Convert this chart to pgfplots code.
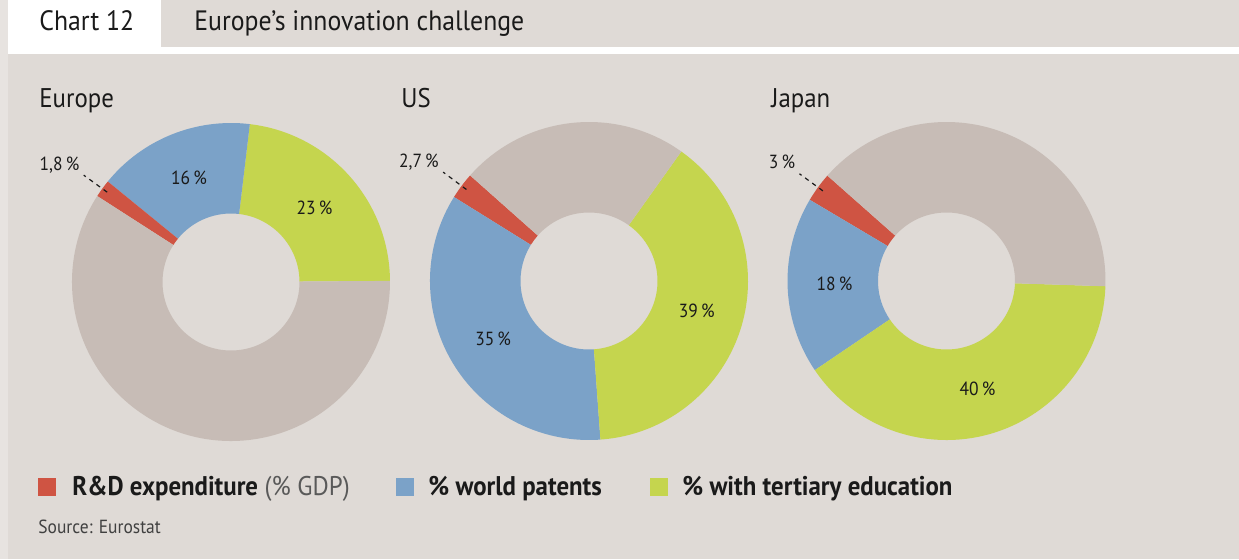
\documentclass[border=0pt]{standalone}
\usepackage{pgfplots}
\pgfplotsset{compat=1.18}
\usepackage{fontspec}
\setmainfont{PT Sans}[FakeStretch=0.92]

\definecolor{bg}{HTML}{DFDAD6}
\definecolor{bgleft}{HTML}{E7E3E0}
\definecolor{cgrey}{HTML}{C7BCB6}
\definecolor{cred}{HTML}{CF5443}
\definecolor{cblue}{HTML}{7BA2C8}
\definecolor{cgreen}{HTML}{C5D54E}
\definecolor{ink}{HTML}{1A1A1A}

% donut: centre x, centre y, start angle, slices value/colour/label (0 none, 1 inside, 2 outside)
% sizes in px of the reference, 1px = 0.5pt
\newcommand\donut[4]{%
  \xdef\ang{#3}%
  \foreach \v/\c/\t in {#4}{%
    \pgfmathsetmacro\b{\ang+3.6*\v}%
    \pgfmathsetmacro\m{(\ang+\b)/2}%
    \fill[\c] (axis cs:{#1+159*cos(\ang)},{#2+159*sin(\ang)})
      arc[start angle=\ang,end angle=\b,radius=79.5pt]
      -- (axis cs:{#1+68.5*cos(\b)},{#2+68.5*sin(\b)})
      arc[start angle=\b,end angle=\ang,radius=34.25pt] -- cycle;
    \ifnum\t=1
      \node[ink,font=\fontsize{9.5}{11}\selectfont] at (axis cs:{#1+112*cos(\m)},{#2+112*sin(\m)})
        {\pgfmathprintnumber[use comma,assume math mode=true]{\v}\,\%};
    \fi
    \ifnum\t=2
      \draw[ink,line width=0.6pt,dash pattern=on 2.2pt off 2.2pt]
        (axis cs:{#1+153*cos(\m)},{#2+153*sin(\m)}) -- (axis cs:{#1+182*cos(\m)},{#2+182*sin(\m)});
      \node[ink,anchor=base east,inner sep=0pt,font=\fontsize{9.5}{11}\selectfont]
        at (axis cs:{#1+182*cos(\m)-4},{#2+182*sin(\m)+5})
        {\pgfmathprintnumber[use comma,assume math mode=true]{\v}\,\%};
    \fi
    \xdef\ang{\b}%
  }%
}

\begin{document}
\begin{tikzpicture}
\begin{axis}[
    x=0.5pt, y=0.5pt,
    xmin=0, xmax=1239,
    ymin=0, ymax=559,
    hide axis,
    clip=false,
]
\pgfplotsextra{
  % panel and header
  \fill[bg] (axis cs:0,0) rectangle (axis cs:1239,559);
  \fill[bgleft] (axis cs:0,0) rectangle (axis cs:8,559);
  \fill[white] (axis cs:8,505) rectangle (axis cs:1239,512);
  \fill[white] (axis cs:8,512) rectangle (axis cs:161,559);
  \node[ink,anchor=base west,inner sep=0pt,font=\fontsize{14}{16}\selectfont] at (axis cs:39,529) {Chart 12};
  \node[ink,anchor=base west,inner sep=0pt,font=\fontsize{14}{16}\selectfont] at (axis cs:194,529) {Europe’s innovation challenge};

  % titles
  \node[ink,anchor=base west,inner sep=0pt,font=\fontsize{13.5}{15}\selectfont] at (axis cs:39,452) {Europe};
  \node[ink,anchor=base west,inner sep=0pt,font=\fontsize{13.5}{15}\selectfont] at (axis cs:401,452) {US};
  \node[ink,anchor=base west,inner sep=0pt,font=\fontsize{13.5}{15}\selectfont] at (axis cs:771,452) {Japan};

  % donuts: R&D expenditure, world patents, tertiary education, rest
  \donut{231}{277}{0.4}{23/cgreen/1, 16/cblue/1, 1.8/cred/2, 59.2/cgrey/0}
  \donut{589}{278}{138.4}{2.7/cred/2, 35/cblue/1, 39/cgreen/1, 23.3/cgrey/0}
  \donut{946.5}{278}{138.5}{3/cred/2, 18/cblue/1, 40/cgreen/1, 39/cgrey/0}

  % legend
  \fill[cred] (axis cs:38,63) rectangle (axis cs:56,81);
  \fill[cblue] (axis cs:396,63) rectangle (axis cs:414,81);
  \fill[cgreen] (axis cs:650,63) rectangle (axis cs:668,81);
  \node[ink,anchor=base west,inner sep=0pt,font=\fontsize{13.5}{16}\selectfont] at (axis cs:72,64)
    {\textbf{R\&D expenditure} {\color{black!65}(\% GDP)}};
  \node[ink,anchor=base west,inner sep=0pt,font=\fontsize{13.5}{16}\selectfont\bfseries] at (axis cs:428,64) {\% world patents};
  \node[ink,anchor=base west,inner sep=0pt,font=\fontsize{13.5}{16}\selectfont\bfseries] at (axis cs:682,64) {\% with tertiary education};

  \node[black!75,anchor=base west,inner sep=0pt,font=\fontsize{9.5}{11}\selectfont] at (axis cs:38,26) {Source: Eurostat};
}
\end{axis}
\end{tikzpicture}
\end{document}
